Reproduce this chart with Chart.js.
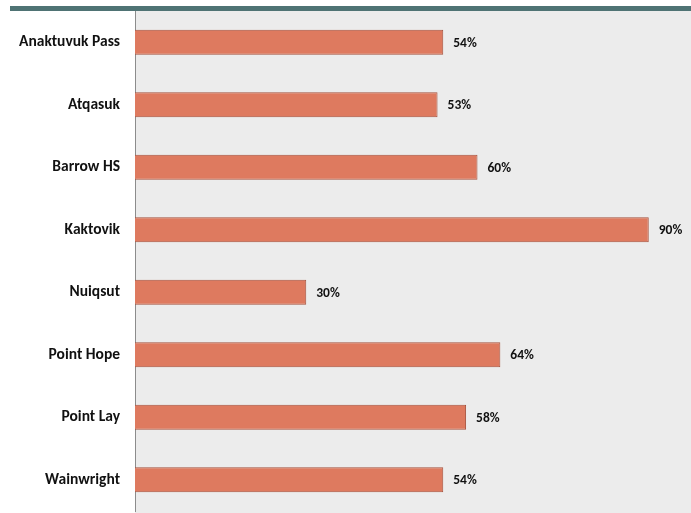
<!DOCTYPE html>
<html>
<head>
<meta charset="utf-8">
<script src="https://cdn.jsdelivr.net/npm/chart.js"></script>
<style>
  html, body { margin: 0; padding: 0; background: #ffffff; }
  #wrap { width: 691px; height: 513px; }
</style>
</head>
<body>
<div id="wrap"><canvas id="chart"></canvas></div>
<script>
// Share of students by school site
const schools = ['Anaktuvuk Pass', 'Atqasuk', 'Barrow HS', 'Kaktovik', 'Nuiqsut', 'Point Hope', 'Point Lay', 'Wainwright'];
const shares = [54, 53, 60, 90, 30, 64, 58, 54];

const FONT = "'Carlito', 'Open Sans', 'Lato', sans-serif";

// Grey plot background and the teal rule across the top
const backdrop = {
  id: 'backdrop',
  beforeDraw(chart) {
    const { ctx, chartArea } = chart;
    ctx.save();
    ctx.fillStyle = '#ececec';
    ctx.fillRect(chartArea.left, 11, chart.width - chartArea.left, chart.height - 11);
    ctx.fillStyle = '#4f7374';
    ctx.fillRect(10, 6, chart.width - 10, 5);
    ctx.restore();
  }
};

// Percentage text to the right of each bar
const valueLabels = {
  id: 'valueLabels',
  afterDatasetsDraw(chart) {
    const { ctx } = chart;
    const meta = chart.getDatasetMeta(0);
    ctx.save();
    ctx.font = 'bold 13.5px ' + FONT;
    ctx.fillStyle = '#111111';
    ctx.textAlign = 'left';
    ctx.textBaseline = 'middle';
    meta.data.forEach((bar, i) => {
      ctx.fillText(shares[i] + '%', bar.x + 10, bar.y + 1);
    });
    ctx.restore();
  }
};

new Chart(document.getElementById('chart'), {
  type: 'bar',
  data: {
    labels: schools,
    datasets: [{
      data: shares,
      backgroundColor: '#de7a5f',
      borderColor: '#a5503b',
      borderWidth: 1,
      borderSkipped: 'left',
      categoryPercentage: 1,
      barPercentage: 0.4
    }]
  },
  options: {
    indexAxis: 'y',
    responsive: true,
    maintainAspectRatio: false,
    animation: false,
    layout: { padding: { top: 11, left: 0, right: 0, bottom: 2 } },
    plugins: {
      legend: { display: false },
      tooltip: { enabled: false }
    },
    scales: {
      x: {
        min: 0,
        max: 97.4,
        display: false
      },
      y: {
        afterFit(scale) {
          scale.width = 135;
          scale.paddingTop = 0;
          scale.paddingBottom = 0;
        },
        grid: { display: false, drawTicks: false },
        border: { display: true, color: '#8c8c8c', width: 1 },
        ticks: {
          padding: 15,
          color: '#111111',
          font: { family: FONT, size: 15.5, weight: 'bold' }
        }
      }
    }
  },
  plugins: [backdrop, valueLabels]
});
</script>
</body>
</html>
